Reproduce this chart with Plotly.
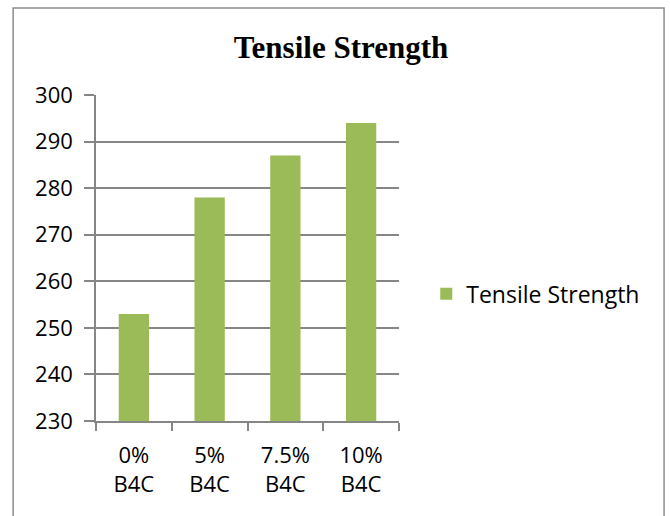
import plotly.graph_objects as go

categories = ["0%<br>B4C", "5%<br>B4C", "7.5%<br>B4C", "10%<br>B4C"]
tensile_strength = [253, 278, 287, 294]
y_ticks = [230, 240, 250, 260, 270, 280, 290, 300]
series_name = "Tensile Strength"
chart_title = "Tensile Strength"

bar_color = "#9BBB59"
axis_color = "#868686"
label_font = dict(family="Open Sans", size=22, color="#000000")

fig = go.Figure()
fig.add_trace(go.Bar(
    x=categories,
    y=tensile_strength,
    name=series_name,
    marker=dict(color=bar_color, line=dict(width=0)),
    showlegend=True,
))

fig.update_layout(
    width=670,
    height=516,
    paper_bgcolor="white",
    plot_bgcolor="white",
    margin=dict(l=96, r=271, t=95, b=95),
    bargap=0.6,
    title=dict(
        text=chart_title,
        x=341 / 670,
        xanchor="center",
        y=1 - 47 / 516,
        yanchor="middle",
        font=dict(family="Liberation Serif", size=31, color="#000000", weight="bold"),
    ),
    showlegend=True,
    legend=dict(
        x=1.09,
        xanchor="left",
        y=0.39,
        yanchor="middle",
        font=dict(family="Open Sans", size=23, color="#000000"),
        bgcolor="rgba(0,0,0,0)",
        itemsizing="constant",
    ),
    xaxis=dict(
        showline=True,
        linecolor=axis_color,
        linewidth=1.5,
        ticks="outside",
        ticklen=8,
        tickcolor=axis_color,
        tickwidth=1.5,
        tickson="boundaries",
        showgrid=False,
        tickfont=label_font,
        ticklabelstandoff=14,
        fixedrange=True,
    ),
    yaxis=dict(
        range=[230, 300],
        tickvals=y_ticks,
        showline=True,
        linecolor=axis_color,
        linewidth=1.5,
        ticks="outside",
        ticklen=10,
        tickcolor=axis_color,
        tickwidth=1.5,
        showgrid=True,
        gridcolor=axis_color,
        gridwidth=1.5,
        zeroline=False,
        tickfont=label_font,
        ticklabelstandoff=7,
        fixedrange=True,
    ),
    shapes=[
        dict(
            type="rect",
            xref="paper", yref="paper",
            x0=(13 - 96) / 303.5, x1=(665 - 96) / 303.5,
            y0=-0.35, y1=1 + (95 - 8) / 326,
            line=dict(color="#8C8C8C", width=1.5),
            fillcolor="rgba(0,0,0,0)",
            layer="below",
        )
    ],
)

fig.write_html("out.html", config={"displayModeBar": False})
